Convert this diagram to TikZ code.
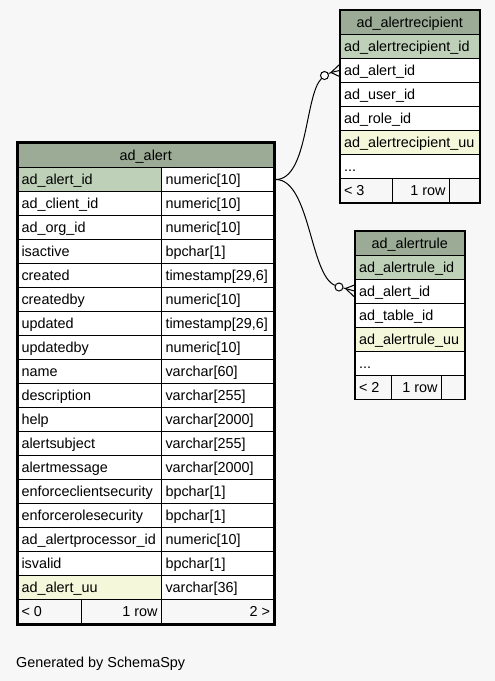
\documentclass[tikz,border=0pt]{standalone}
\usepackage{fontspec}
\setmainfont{Liberation Sans}
\usetikzlibrary{calc}
\definecolor{bgc}{HTML}{F7F7F7}
\definecolor{hdrc}{HTML}{9BAB96}
\definecolor{pkc}{HTML}{BED1B8}
\definecolor{uuc}{HTML}{F4F7DA}
\newcommand\cf{\fontsize{14.4}{17}\selectfont}
% cell macros: name, x, y, width, fill, align(l/r/c), text
\newcommand\mycell[7]{\node[cellbox, fill=#5, minimum width=#4pt] (#1) at (#2,#3) {\makebox[\dimexpr#4pt-8pt\relax][#6]{#7}};}
\newcommand\arow[4]{%
  \pgfmathsetmacro\yy{167+24*(#1-1)}%
  \mycell{an#1}{17}{\yy}{144}{#4}{l}{#2}%
  \mycell{at#1}{161}{\yy}{112.5}{white}{l}{#3}%
}
\begin{document}
\begin{tikzpicture}[x=1pt,y=-1pt,
  cellbox/.style={draw=black, line width=1pt, rectangle, anchor=north west,
    minimum height=24pt, inner xsep=4pt, inner ysep=0pt,
    text height=12pt, text depth=2pt, font=\cf},
  conn/.style={draw=black, line width=1pt},
  ring/.style={circle, draw=black, fill=white, line width=1pt, minimum size=8pt, inner sep=0pt},
  label/.style={font=\cf, inner sep=0pt, anchor=base west}]
\useasboundingbox[fill=bgc] (0,0) rectangle (495,681);

% ---------- ad_alert ----------
\mycell{ah}{17}{142.5}{256.5}{hdrc}{c}{ad\_alert}
\arow{1}{ad\_alert\_id}{numeric[10]}{pkc}
\arow{2}{ad\_client\_id}{numeric[10]}{white}
\arow{3}{ad\_org\_id}{numeric[10]}{white}
\arow{4}{isactive}{bpchar[1]}{white}
\arow{5}{created}{timestamp[29,6]}{white}
\arow{6}{createdby}{numeric[10]}{white}
\arow{7}{updated}{timestamp[29,6]}{white}
\arow{8}{updatedby}{numeric[10]}{white}
\arow{9}{name}{varchar[60]}{white}
\arow{10}{description}{varchar[255]}{white}
\arow{11}{help}{varchar[2000]}{white}
\arow{12}{alertsubject}{varchar[255]}{white}
\arow{13}{alertmessage}{varchar[2000]}{white}
\arow{14}{enforceclientsecurity}{bpchar[1]}{white}
\arow{15}{enforcerolesecurity}{bpchar[1]}{white}
\arow{16}{ad\_alertprocessor\_id}{numeric[10]}{white}
\arow{17}{isvalid}{bpchar[1]}{white}
\arow{18}{ad\_alert\_uu}{varchar[36]}{uuc}
\mycell{af1}{17}{599}{64}{bgc}{l}{< 0}
\mycell{af2}{81}{599}{80}{bgc}{r}{1 row}
\mycell{af3}{161}{599}{112.5}{bgc}{r}{2 >}
\draw[line width=3pt] (ah.north west) rectangle (af3.south east);

% ---------- ad_alertrecipient ----------
\mycell{rh}{339.5}{10}{139.5}{hdrc}{c}{ad\_alertrecipient}
\mycell{r1}{339.5}{34}{139.5}{pkc}{l}{ad\_alertrecipient\_id}
\mycell{r2}{339.5}{58}{139.5}{white}{l}{ad\_alert\_id}
\mycell{r3}{339.5}{82}{139.5}{white}{l}{ad\_user\_id}
\mycell{r4}{339.5}{106}{139.5}{white}{l}{ad\_role\_id}
\mycell{r5}{339.5}{130}{139.5}{uuc}{l}{ad\_alertrecipient\_uu}
\mycell{r6}{339.5}{154}{139.5}{white}{l}{...}
\mycell{rf1}{339.5}{178}{52}{bgc}{l}{< 3}
\mycell{rf2}{391.5}{178}{57.5}{bgc}{r}{1 row}
\mycell{rf3}{449}{178}{30}{bgc}{l}{}
\draw[line width=1.2pt] (rh.north west) rectangle (rf3.south east);

% ---------- ad_alertrule ----------
\mycell{uh}{354.5}{230.5}{109.5}{hdrc}{c}{ad\_alertrule}
\mycell{u1}{354.5}{254.5}{109.5}{pkc}{l}{ad\_alertrule\_id}
\mycell{u2}{354.5}{278.5}{109.5}{white}{l}{ad\_alert\_id}
\mycell{u3}{354.5}{302.5}{109.5}{white}{l}{ad\_table\_id}
\mycell{u4}{354.5}{326.5}{109.5}{uuc}{l}{ad\_alertrule\_uu}
\mycell{u5}{354.5}{350.5}{109.5}{white}{l}{...}
\mycell{uf1}{354.5}{374.5}{36.5}{bgc}{l}{< 2}
\mycell{uf2}{391}{374.5}{50}{bgc}{r}{1 row}
\mycell{uf3}{441}{374.5}{23}{bgc}{l}{}
\draw[line width=1.2pt] (uh.north west) rectangle (uf3.south east);

% ---------- connectors ----------
\node[ring] (o1) at (324.5,75.5) {};
\node[ring] (o2) at (339,287) {};
\coordinate (v1) at (331,72.5);
\coordinate (v2) at (345.5,288.5);
\coordinate (s) at ($(at1.east)+(1.5,0)$);
\draw[conn] (s) .. controls (308,179) and (305,95) .. (o1);
\draw[conn] (s) .. controls (310,180) and (310,275) .. (o2);
\draw[conn] (o1) -- (v1) -- (r2.west);
\draw[conn] (v1) -- ($(r2.west)+(0,-6)$);
\draw[conn] (v1) -- ($(r2.west)+(0,6)$);
\draw[conn] (o2) -- (v2) -- (u2.west);
\draw[conn] (v2) -- ($(u2.west)+(0,-6)$);
\draw[conn] (v2) -- ($(u2.west)+(0,6)$);

% ---------- footer text ----------
\node[label] (gen) at (16,667) {Generated by SchemaSpy};
\end{tikzpicture}
\end{document}
